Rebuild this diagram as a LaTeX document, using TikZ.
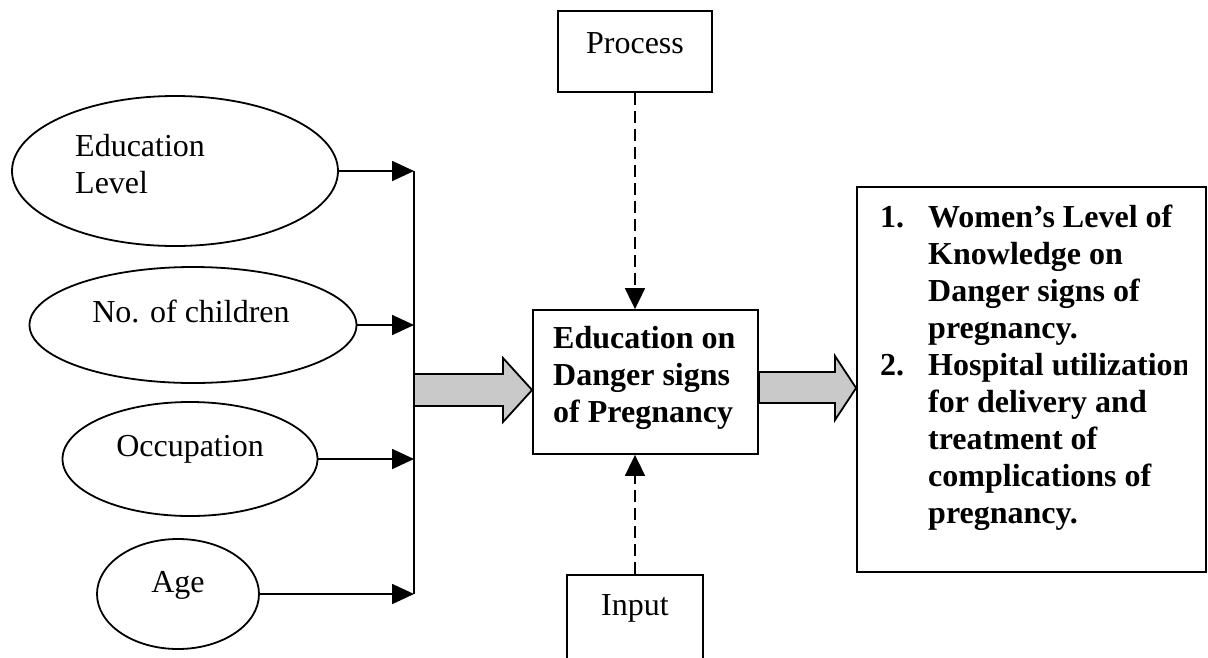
\documentclass[tikz,border=0pt]{standalone}
\usepackage{fontspec}
\setmainfont{Liberation Serif}
\usetikzlibrary{shapes.geometric,arrows.meta,calc}
\begin{document}
\begin{tikzpicture}[x=1pt,y=-1pt,
  lw/.style={line width=1.8pt},
  oval/.style={ellipse,draw,lw,inner sep=0pt},
  boxed/.style={rectangle,draw,lw,inner sep=0pt},
  txt/.style={inner sep=0pt,font=\fontsize{32}{37}\selectfont},
  btxt/.style={inner sep=0pt,font=\fontsize{32}{37}\selectfont\bfseries},
  arr/.style={lw,-{Triangle[length=22pt,width=20pt]}},
  darr/.style={lw,dash pattern=on 12pt off 6pt,-{Triangle[length=21pt,width=20pt]}},
  fat/.style={lw,fill=gray!42}]
\clip (0,0) rectangle (1208,657);
\fill[white] (0,0) rectangle (1208,657);

% ellipses
\node[oval,minimum width=326pt,minimum height=150pt] (edu) at (175,171) {};
\node[oval,minimum width=327pt,minimum height=116pt] (chl) at (193,325) {};
\node[oval,minimum width=255pt,minimum height=114pt] (occ) at (190,459) {};
\node[oval,minimum width=162pt,minimum height=110pt] (age) at (178,594) {};

\node[txt,anchor=base west] (edut) at (75,156) {\begin{tabular}[t]{@{}l@{}}Education\\Level\end{tabular}};
\node[txt,anchor=base] (chlt) at (191,322) {No. of children};
\node[txt,anchor=base] (occt) at (190,456) {Occupation};
\node[txt,anchor=base] (aget) at (178,592) {Age};

% bus
\coordinate (b1) at (414,171);
\coordinate (b4) at (414,594);
\draw[lw] (b1) -- (b4);
\draw[arr] (edu.east) -- (edu.east -| b1);
\draw[arr] (chl.east) -- (chl.east -| b1);
\draw[arr] (occ.east) -- (occ.east -| b1);
\draw[arr] (age.east) -- (age.east -| b1);

% center box
\node[boxed,minimum width=225pt,minimum height=144pt] (ctr) at (645.5,382) {};
\node[btxt,anchor=base west] (ctrt) at (553,348) {\begin{tabular}[t]{@{}l@{}}Education on\\Danger signs\\of Pregnancy\end{tabular}};

% process / input
\node[boxed,minimum width=154pt,minimum height=81pt] (proc) at (635,51.5) {};
\node[txt,anchor=base] (proct) at (635,53) {Process};
\node[boxed,minimum width=136pt,minimum height=100pt] (inp) at (635,625) {};
\node[txt,anchor=base] (inpt) at (635,615) {Input};
\draw[darr] (proc.south) -- (proc.south |- ctr.north);
\draw[darr] (inp.north) -- (inp.north |- ctr.south);

% output box
\node[boxed,minimum width=349pt,minimum height=385pt] (out) at (1031.5,379.5) {};
\begin{scope}
\clip (857,187) rectangle (1186,572);
\node[btxt,anchor=base west] (outt) at (880,227) {\begin{tabular}[t]{@{}p{48pt}@{}l@{}}
1. & Women’s Level of\\
 & Knowledge on\\
 & Danger signs of\\
 & pregnancy.\\
2. & Hospital utilization\\
 & for delivery and\\
 & treatment of\\
 & complications of\\
 & pregnancy.
\end{tabular}};
\end{scope}

% fat arrows
\draw[fat] (414,374) -- (503,374) -- (503,358) -- (ctr.west |- 0,390) -- (503,422) -- (503,406) -- (414,406) -- cycle;
\draw[fat] (ctr.east |- 0,372) -- (835,372) -- (835,356) -- (out.west |- 0,388) -- (835,420) -- (835,403) -- (ctr.east |- 0,403) -- cycle;
\end{tikzpicture}
\end{document}
